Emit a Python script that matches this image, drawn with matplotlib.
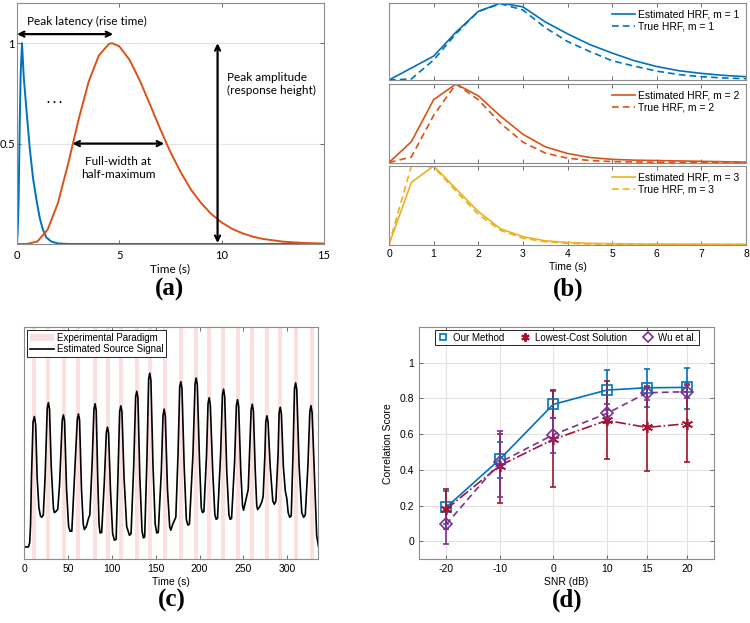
import matplotlib
matplotlib.use('Agg')
import matplotlib.pyplot as plt
from matplotlib.patches import Patch
from matplotlib.lines import Line2D

# ---------------- data: panel (a) ----------------
a_t_blue = [0, 0.04, 0.08, 0.13, 0.18, 0.245, 0.33, 0.46, 0.62, 0.78, 0.95, 1.11, 1.27, 1.43, 1.68, 2.0, 2.5, 15]
a_v_blue = [0, 0.08, 0.22, 0.58, 0.85, 1.0, 0.83, 0.67, 0.48, 0.33, 0.22, 0.13, 0.07, 0.033, 0.012, 0.003, 0, 0]
a_t_orange = [0, 0.5, 1, 1.5, 2, 2.5, 3, 3.5, 4, 4.5, 4.65, 5, 5.5, 6, 6.5, 7, 7.5, 8, 8.5, 9, 9.5,
              10, 10.5, 11, 11.5, 12, 13, 14, 15]
a_v_orange = [0, 0.0004, 0.013, 0.072, 0.204, 0.40, 0.616, 0.808, 0.939, 0.997, 1.0, 0.984, 0.917, 0.814,
              0.694, 0.572, 0.457, 0.357, 0.271, 0.203, 0.149, 0.107, 0.076, 0.054, 0.037, 0.0255,
              0.0117, 0.0051, 0.0022]

# ---------------- data: panel (b) ----------------
b_t = [0, 0.5, 1, 1.5, 2, 2.5, 3, 3.5, 4, 4.5, 5, 5.5, 6, 6.5, 7, 7.5, 8]
b_est1 = [0, 0.155, 0.31, 0.62, 0.89, 1.0, 0.95, 0.755, 0.60, 0.46, 0.35, 0.25, 0.175, 0.12, 0.086, 0.06, 0.043]
b_true1 = [0, 0.013, 0.26, 0.60, 0.89, 0.99, 0.91, 0.68, 0.50, 0.37, 0.25, 0.18, 0.115, 0.07, 0.043, 0.026, 0.017]
b_est2 = [0, 0.264, 0.80, 1.0, 0.85, 0.59, 0.36, 0.20, 0.115, 0.064, 0.04, 0.03, 0.025, 0.02, 0.015, 0.01, 0.005]
b_true2 = [0, 0.07, 0.60, 1.0, 0.80, 0.50, 0.26, 0.12, 0.055, 0.025, 0.012, 0.006, 0.003, 0.002, 0.001, 0.0005, 0]
b_est3 = [0, 0.79, 1.0, 0.71, 0.42, 0.20, 0.10, 0.047, 0.026, 0.015, 0.01, 0.007, 0.005, 0.004, 0.003, 0.002, 0.002]
b_true3 = [0, 1.0, 0.99, 0.68, 0.385, 0.18, 0.08, 0.035, 0.015, 0.006, 0.003, 0.001, 0, 0, 0, 0, 0]
b_labels = ['1', '2', '3']

# ---------------- data: panel (c) ----------------
c_onsets = [8.7, 25.5, 43.3, 59.7, 78.3, 93.2, 108.7, 126.6, 141.1, 158.2, 176.8, 193.9, 208.4, 224.7,
            241.1, 257.0, 274.1, 289.7, 307.6, 325.5]
c_duration = 4.6
c_t = [0, 5, 6.5, 7.5, 8.5, 10.3, 11.8, 13.3, 15, 17, 18.8, 20.2, 22,
       24, 26.5, 27.8, 29.1, 31, 33.5, 34.6, 36.5, 38.5,
       40.5, 43.6, 44.9, 46.2, 48.5, 50.8, 52.5, 54.5,
       57.5, 60.7, 62, 63.3, 65.5, 67.5, 68.8, 71, 73.4, 75,
       77.5, 79.7, 81, 82.3, 84, 85.5, 86.7, 88.5,
       91.5, 93.8, 95.1, 96.4, 98.5, 101, 103, 105,
       107, 109, 110.3, 111.6, 114, 117, 120.2, 122,
       125, 127.2, 128.5, 129.8, 132, 134.5, 136.1, 137.5,
       140, 142, 143.3, 144.6, 147, 149.5, 151.3, 153,
       156.5, 158.4, 159.7, 161, 163.5, 166, 167.3, 169.5, 171.5, 173,
       175.5, 177.4, 178.7, 180, 182.5, 185, 186.7, 188.5,
       192.5, 194.9, 196.2, 197.5, 200, 202, 203.4, 205,
       208, 209.7, 211, 212.3, 215, 217.5, 219, 220.5,
       224, 226.1, 227.4, 228.7, 231, 233.5, 235, 236.5,
       240, 242, 243.3, 244.6, 247, 249, 250.2, 252, 254, 255.5,
       257.5, 258.8, 260.1, 261.4, 263.5, 265.2, 266.2, 268.5, 271, 272.5,
       274.5, 275.5, 276.8, 278.1, 280.5, 283.5, 285.2, 287,
       289.5, 290.7, 292, 293.3, 295.5, 297.7, 299.5, 301, 302.7, 304.5,
       306.5, 308.2, 309.5, 310.8, 313.5, 316.5, 318.6, 320.5,
       323.5, 325.7, 327, 328.3, 331, 333.5, 335.7]
c_y = [0.052, 0.052, 0.07, 0.15, 0.35, 0.59, 0.614, 0.58, 0.35, 0.22, 0.185, 0.18, 0.19,
       0.35, 0.65, 0.674, 0.645, 0.40, 0.22, 0.20, 0.205, 0.215,
       0.32, 0.60, 0.621, 0.595, 0.30, 0.14, 0.12, 0.12,
       0.35, 0.60, 0.625, 0.60, 0.30, 0.15, 0.127, 0.14, 0.174, 0.19,
       0.40, 0.645, 0.669, 0.64, 0.35, 0.15, 0.112, 0.115,
       0.33, 0.545, 0.568, 0.54, 0.30, 0.11, 0.081, 0.085,
       0.35, 0.635, 0.66, 0.635, 0.35, 0.14, 0.102, 0.11,
       0.40, 0.70, 0.723, 0.695, 0.35, 0.12, 0.091, 0.095,
       0.42, 0.775, 0.801, 0.77, 0.40, 0.15, 0.112, 0.115,
       0.38, 0.62, 0.646, 0.615, 0.30, 0.14, 0.124, 0.15, 0.167, 0.18,
       0.45, 0.74, 0.764, 0.735, 0.40, 0.17, 0.146, 0.15,
       0.45, 0.755, 0.78, 0.75, 0.42, 0.22, 0.20, 0.205,
       0.45, 0.67, 0.695, 0.665, 0.38, 0.19, 0.171, 0.175,
       0.45, 0.707, 0.732, 0.70, 0.38, 0.19, 0.171, 0.175,
       0.42, 0.662, 0.687, 0.657, 0.38, 0.23, 0.21, 0.24, 0.275, 0.30,
       0.50, 0.642, 0.667, 0.637, 0.38, 0.23, 0.213, 0.225, 0.246, 0.27,
       0.45, 0.592, 0.617, 0.59, 0.40, 0.25, 0.236, 0.25,
       0.45, 0.63, 0.654, 0.625, 0.40, 0.294, 0.26, 0.20, 0.18, 0.185,
       0.45, 0.734, 0.759, 0.73, 0.40, 0.20, 0.18, 0.19,
       0.40, 0.636, 0.661, 0.63, 0.35, 0.10, 0.052]

# ---------------- data: panel (d) ----------------
d_snr_labels = ['-20', '-10', '0', '10', '15', '20']
d_ours = [0.19, 0.459, 0.767, 0.847, 0.86, 0.862]
d_ours_lo = [0.10, 0.353, 0.69, 0.735, 0.754, 0.741]
d_ours_hi = [0.284, 0.558, 0.843, 0.959, 0.965, 0.968]
d_lc = [0.18, 0.424, 0.571, 0.677, 0.638, 0.659]
d_lc_lo = [0.07, 0.216, 0.302, 0.461, 0.395, 0.446]
d_lc_hi = [0.293, 0.60, 0.847, 0.90, 0.866, 0.875]
d_wu = [0.095, 0.442, 0.597, 0.716, 0.832, 0.838]
d_wu_lo = [-0.015, 0.25, 0.496, 0.66, 0.79, 0.80]
d_wu_hi = [0.175, 0.62, 0.688, 0.77, 0.87, 0.88]

# ---------------- style ----------------
BLUE = '#0072BD'
ORANGE = '#D95319'
YELLOW = '#EDB120'
RED = '#A2142F'
PURPLE = '#7E2F8E'
SPINE = '#8c8c8c'
MSANS = 'Liberation Sans'

fig = plt.figure(figsize=(7.5, 6.23), dpi=100)
W, H = 750.0, 623.0


def box(l, t, r, b):
    return [l / W, 1 - b / H, (r - l) / W, (b - t) / H]


def style_axes(ax):
    for s in ax.spines.values():
        s.set_color(SPINE)
        s.set_linewidth(0.8)
    ax.tick_params(direction='in', top=True, right=True, color='#555555', length=3, width=0.6)


# ================= panel (a) =================
axa = fig.add_axes(box(17, 3, 324, 244))
style_axes(axa)
axa.plot(a_t_blue, a_v_blue, color=BLUE, lw=1.4)
axa.plot(a_t_orange, a_v_orange, color=ORANGE, lw=1.4)
axa.set_xlim(0, 15)
axa.set_ylim(0, 1.2)
axa.set_xticks([0, 5, 10, 15])
axa.set_yticks([0.5, 1])
axa.set_yticklabels(['0.5', '1'])
axa.yaxis.grid(True, color='#e4e4e4', lw=0.8)
axa.set_axisbelow(True)
for lab in axa.get_xticklabels() + axa.get_yticklabels():
    lab.set_fontfamily('Lato')
    lab.set_fontsize(8)
axa.tick_params(axis='x', pad=4)
axa.tick_params(axis='y', pad=1.5)
axa.set_xlabel('Time (s)', fontfamily='Lato', fontsize=8.5, labelpad=2)

arrow_kw = dict(arrowstyle='<->', color='black', lw=1.6, mutation_scale=9, shrinkA=0, shrinkB=0)
axa.annotate('', xy=(0.0, 1.045), xytext=(4.7, 1.045), arrowprops=arrow_kw)
axa.text(3.41, 1.106, 'Peak latency (rise time)', ha='center', va='center', fontfamily='Lato', fontsize=8.5)
axa.annotate('', xy=(2.71, 0.5), xytext=(7.19, 0.5), arrowprops=arrow_kw)
axa.text(4.94, 0.38, 'Full-width at\nhalf-maximum', ha='center', va='center', fontfamily='Lato',
         fontsize=8.5, linespacing=1.2)
axa.annotate('', xy=(9.8, 1.0), xytext=(9.8, 0.005), arrowprops=arrow_kw)
axa.text(10.24, 0.795, 'Peak amplitude\n(response height)', ha='left', va='center', fontfamily='Lato',
         fontsize=8.5, linespacing=1.2)
axa.text(1.81, 0.72, '. . .', ha='center', va='center', fontfamily='Lato', fontsize=9, fontweight='bold')

# ================= panel (b) =================
b_boxes = [(3, 80), (84, 162.5), (166, 244.5)]
b_est = [b_est1, b_est2, b_est3]
b_true = [b_true1, b_true2, b_true3]
b_cols = [BLUE, ORANGE, YELLOW]
for i in range(3):
    top, bot = b_boxes[i]
    ax = fig.add_axes(box(389, top, 746, bot))
    style_axes(ax)
    ax.plot(b_t, b_est[i], color=b_cols[i], lw=1.2, label='Estimated HRF, m = ' + b_labels[i])
    ax.plot(b_t, b_true[i], color=b_cols[i], lw=1.2, ls=(0, (4, 2.5)),
            label='True HRF, m = ' + b_labels[i])
    ax.set_xlim(0, 8)
    ax.set_ylim(0, 1.0)
    ax.set_yticks([])
    ax.set_xticks(range(0, 9))
    ax.tick_params(axis='y', left=False, right=False)
    if i < 2:
        ax.set_xticklabels([])
    else:
        for lab in ax.get_xticklabels():
            lab.set_fontfamily(MSANS)
            lab.set_fontsize(7.5)
        ax.set_xlabel('Time (s)', fontfamily=MSANS, fontsize=7.5, labelpad=2)
    ax.legend(loc='upper right', frameon=False, prop={'family': MSANS, 'size': 7.5},
              handlelength=2.2, handletextpad=0.3, labelspacing=0.2, borderaxespad=0.45,
              borderpad=0.2)

# ================= panel (c) =================
axc = fig.add_axes(box(24, 327, 318, 559))
style_axes(axc)
for on in c_onsets:
    axc.axvspan(on, on + c_duration, color='#fbe0e0', lw=0, zorder=0)
axc.plot(c_t, c_y, color='black', lw=1.2)
axc.set_xlim(0, 335)
axc.set_ylim(0, 1)
axc.set_yticks([])
axc.tick_params(axis='y', left=False, right=False)
axc.set_xticks([0, 50, 100, 150, 200, 250, 300])
for lab in axc.get_xticklabels():
    lab.set_fontfamily(MSANS)
    lab.set_fontsize(7.5)
axc.set_xlabel('Time (s)', fontfamily=MSANS, fontsize=7.5, labelpad=2)
hc = [Patch(facecolor='#fbe0e0', edgecolor='none', label='Experimental Paradigm'),
      Line2D([0], [0], color='black', lw=1.2, label='Estimated Source Signal')]
legc = axc.legend(handles=hc, loc='upper left', prop={'family': MSANS, 'size': 7}, fancybox=False,
                  edgecolor='black', framealpha=1, borderaxespad=0.35, borderpad=0.25,
                  handlelength=2.5, handletextpad=0.3, labelspacing=0.15)
legc.get_frame().set_linewidth(0.6)

# ================= panel (d) =================
axd = fig.add_axes(box(419.3, 327, 714, 559.3))
style_axes(axd)
xpos = [0, 1, 2, 3, 3.75, 4.5]


def errs(m, lo, hi):
    return [[a - b for a, b in zip(m, lo)], [b - a for a, b in zip(m, hi)]]


axd.errorbar(xpos, d_ours, yerr=errs(d_ours, d_ours_lo, d_ours_hi), color=BLUE, lw=1.2, marker='s',
             ms=6.5, mfc='none', mew=1.2, capsize=2, elinewidth=1.2, capthick=1.0, zorder=3)
axd.errorbar(xpos, d_lc, yerr=errs(d_lc, d_lc_lo, d_lc_hi), color=RED, lw=1.2, ls='-.',
             marker=(6, 2, 0), ms=8, mew=1.2, capsize=2, elinewidth=1.2, capthick=1.0, zorder=3)
axd.errorbar(xpos, d_wu, yerr=errs(d_wu, d_wu_lo, d_wu_hi), color=PURPLE, lw=1.2, ls=(0, (4, 2.5)),
             marker='D', ms=6, mfc='none', mew=1.2, capsize=2, elinewidth=1.2, capthick=1.0, zorder=3)
axd.set_xlim(-0.5, 5.0)
axd.set_ylim(-0.1, 1.2)
axd.set_xticks(xpos)
axd.set_xticklabels(d_snr_labels)
axd.set_yticks([0, 0.2, 0.4, 0.6, 0.8, 1.0])
axd.set_yticklabels(['0', '0.2', '0.4', '0.6', '0.8', '1'])
axd.grid(True, color='#e2e2e2', lw=0.8)
axd.set_axisbelow(True)
for lab in axd.get_xticklabels() + axd.get_yticklabels():
    lab.set_fontfamily(MSANS)
    lab.set_fontsize(7.5)
axd.set_xlabel('SNR (dB)', fontfamily=MSANS, fontsize=7.5, labelpad=2)
axd.set_ylabel('Correlation Score', fontfamily=MSANS, fontsize=7.5, labelpad=5)
hd = [Line2D([0], [0], color=BLUE, ls='none', marker='s', ms=5, mfc='none', mew=1.2, label='Our Method'),
      Line2D([0], [0], color=RED, ls='none', marker=(6, 2, 0), ms=6, mew=1.5, label='Lowest-Cost Solution'),
      Line2D([0], [0], color=PURPLE, ls='none', marker='D', ms=5, mfc='none', mew=1.2, label='Wu et al.')]
legd = axd.legend(handles=hd, loc='upper center', ncol=3, prop={'family': MSANS, 'size': 7},
                  fancybox=False, edgecolor='black', framealpha=1, borderaxespad=0.35, borderpad=0.25,
                  handlelength=1.2, handletextpad=0.4, columnspacing=1.6)
legd.get_frame().set_linewidth(0.6)

# ================= panel labels =================
for txt, x, y in [('(a)', 170, 289), ('(b)', 568, 289), ('(c)', 172, 600), ('(d)', 567, 600)]:
    fig.text(x / W, 1 - y / H, txt, ha='center', va='center', fontfamily='Liberation Serif',
             fontweight='bold', fontsize=18)

fig.savefig('out.png', dpi=100)
